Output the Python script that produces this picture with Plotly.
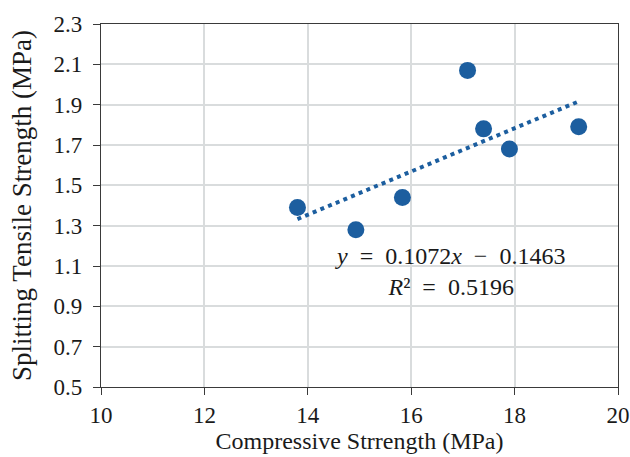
import numpy as np
import plotly.graph_objects as go

# Data
compressive = [13.80, 14.93, 15.83, 17.09, 17.40, 17.90, 19.24]
tensile = [1.39, 1.28, 1.44, 2.07, 1.78, 1.68, 1.79]
NB = "\u00a0"
eq_text = (f"<i>y</i>{NB} ={NB} 0.1072<i>x</i>{NB} −{NB} 0.1463<br>"
           f"<i>R</i>²{NB} ={NB} 0.5196")
x_ticks = [10, 12, 14, 16, 18, 20]
y_ticks = [0.5, 0.7, 0.9, 1.1, 1.3, 1.5, 1.7, 1.9, 2.1, 2.3]

BLUE = "#1c5e9f"
FONT = "Liberation Serif, Times New Roman, serif"
TXT = "#1a1a1a"

slope, intercept = np.polyfit(compressive, tensile, 1)
tx = np.array([min(compressive), max(compressive)])
ty = slope * tx + intercept

fig = go.Figure()
fig.add_trace(go.Scatter(
    x=tx, y=ty, mode="lines",
    line=dict(color=BLUE, width=4, dash="4px,4.3px"),
    hoverinfo="skip", showlegend=False,
))
fig.add_trace(go.Scatter(
    x=compressive, y=tensile, mode="markers",
    marker=dict(color=BLUE, size=17, line=dict(width=0)),
    showlegend=False,
))

fig.add_annotation(
    x=16.75, y=1.075, xref="x", yref="y",
    text=eq_text, showarrow=False, align="center",
    xanchor="center", yanchor="middle",
    font=dict(family=FONT, size=24, color=TXT),
)

axis_common = dict(
    showline=True, linecolor="#3a3a3a", linewidth=1.3, mirror=True,
    ticks="outside", ticklen=7, tickcolor="#3a3a3a", tickwidth=1.3,
    showgrid=True, gridcolor="#d9dcdd", gridwidth=2,
    zeroline=False, automargin=False,
    tickfont=dict(family=FONT, size=23, color=TXT),
)

fig.update_xaxes(
    range=[10, 20], tickvals=x_ticks, ticktext=[str(v) for v in x_ticks],
    title=dict(text="Compressive Strrength (MPa)", standoff=2,
               font=dict(family=FONT, size=24, color=TXT)),
    **axis_common,
)
fig.update_yaxes(
    range=[0.5, 2.3], tickvals=y_ticks, ticktext=[f"{v:.1f}" for v in y_ticks],
    ticklabelstandoff=6,
    title=dict(text="Splitting Tensile Strength (MPa)", standoff=14,
               font=dict(family=FONT, size=27, color=TXT)),
    **axis_common,
)

fig.update_layout(
    width=630, height=457,
    margin=dict(l=101, r=12, t=24, b=70),
    paper_bgcolor="white", plot_bgcolor="white",
    showlegend=False,
)

fig.write_html(
    "out.html",
    config={"displayModeBar": False},
    post_script="document.body.style.margin='0px';document.body.style.padding='0px';",
)
